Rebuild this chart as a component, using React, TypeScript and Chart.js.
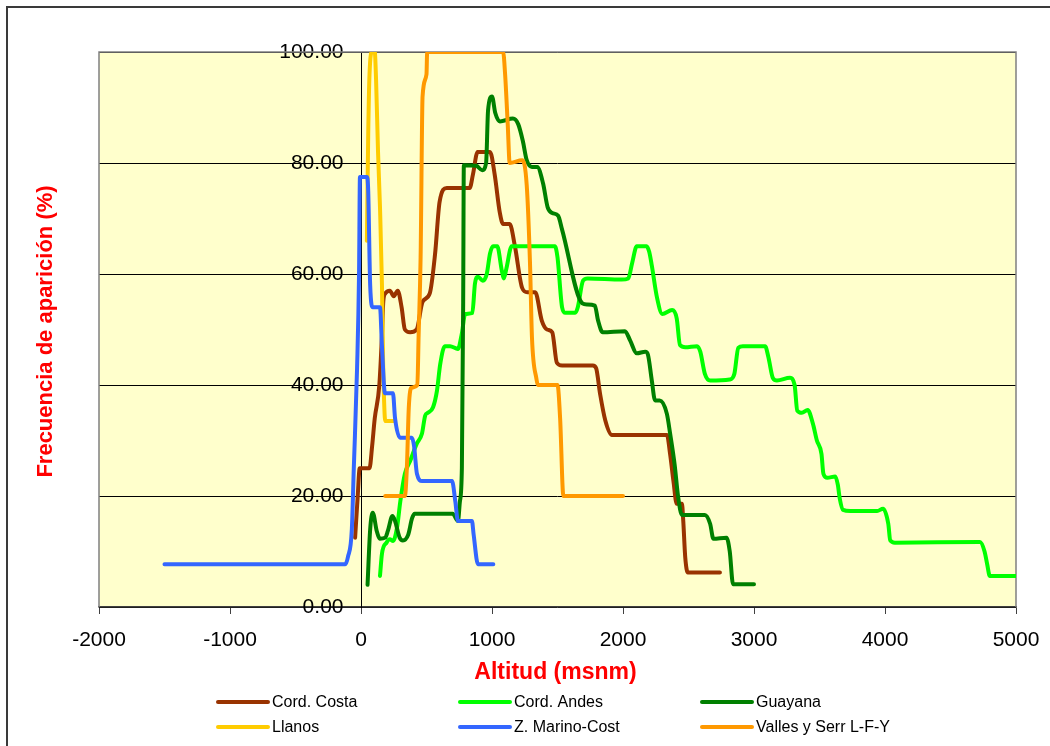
import React, { useEffect, useRef } from "react";
import { Chart, registerables } from "chart.js";

Chart.register(...registerables);

const FONT = '"Liberation Sans", Arial, Helvetica, sans-serif';

// ---- data (altitude in msnm, frequency in %) ----
const seriesNames = ["Cord. Costa", "Cord. Andes", "Guayana", "Llanos", "Z. Marino-Cost", "Valles y Serr L-F-Y"];
const seriesColors = ["#993300", "#00FF00", "#008000", "#FFCC00", "#3366FF", "#FF9900"];

const costaX = [-45, -25, -10, 65, 85, 105, 140, 160, 170, 185, 220, 250, 280, 310, 335, 375, 425, 470, 525, 565, 600, 655, 830, 855, 890, 985, 1020, 1060, 1085, 1135, 1175, 1230, 1270, 1330, 1380, 1420, 1460, 1495, 1535, 1770, 1795, 1825, 1865, 1915, 2335, 2360, 2385, 2410, 2450, 2460, 2475, 2495, 2740];
const costaY = [12.5, 20, 25, 25, 29, 34, 40, 49, 55, 56.5, 57, 56, 57, 54, 50, 49.5, 50, 55, 56.5, 63.5, 73, 75.5, 75.5, 78, 82, 82, 78, 71, 69, 69, 65, 57.5, 56.7, 56.7, 51.6, 50, 49.5, 44, 43.5, 43.5, 43, 38.4, 33.6, 31, 31, 27.5, 22.7, 18.6, 18.6, 15.5, 9, 6.2, 6.2];

const andesX = [145, 160, 195, 220, 245, 275, 300, 335, 375, 425, 465, 490, 510, 550, 580, 605, 640, 680, 740, 770, 795, 850, 870, 893, 930, 960, 985, 1008, 1040, 1075, 1090, 1110, 1150, 1480, 1500, 1535, 1560, 1635, 1655, 1695, 1730, 1990, 2040, 2070, 2105, 2180, 2200, 2220, 2260, 2300, 2375, 2410, 2435, 2475, 2565, 2590, 2625, 2665, 2815, 2850, 2880, 2915, 3085, 3110, 3145, 3175, 3275, 3310, 3330, 3365, 3410, 3450, 3480, 3515, 3530, 3560, 3620, 3640, 3655, 3680, 3735, 3940, 3985, 4025, 4040, 4075, 4725, 4760, 4780, 4800, 5000];
const andesY = [5.6, 9.6, 11.6, 12.2, 11.9, 14.3, 19, 24, 26.3, 29.4, 31.2, 34.5, 35, 36, 39, 43.8, 47, 47, 46.5, 49.3, 52.8, 53, 58.3, 59.5, 58.8, 60, 63.7, 65, 65, 60.6, 59.2, 61, 65, 65, 63, 54, 53, 53, 54, 58.8, 59.2, 59, 59.2, 62, 65, 65, 64, 61.5, 55.7, 52.8, 53.5, 52, 47.2, 46.8, 47, 46, 42, 40.8, 41, 42, 46.7, 47, 47, 45, 41.2, 40.8, 41.3, 40, 35.4, 35, 35.5, 33, 30, 27.6, 24, 23.3, 23.5, 22, 19.5, 17.5, 17.3, 17.3, 17.7, 15, 12, 11.6, 11.7, 10, 7.7, 5.6, 5.6];

const guayanaX = [50, 70, 90, 120, 145, 185, 205, 240, 260, 295, 320, 360, 390, 410, 700, 740, 755, 770, 780, 785, 880, 925, 955, 970, 1000, 1025, 1060, 1160, 1200, 1235, 1265, 1305, 1345, 1390, 1425, 1460, 1505, 1535, 1690, 1725, 1785, 1810, 1845, 2015, 2055, 2105, 2170, 2190, 2220, 2245, 2280, 2335, 2360, 2395, 2420, 2450, 2625, 2665, 2690, 2790, 2815, 2840, 3000];
const guayanaY = [4, 14, 17, 13.7, 12.3, 12.5, 13.7, 16.4, 15.5, 12.5, 12, 13, 16, 16.8, 16.8, 15.5, 19, 25, 55, 79.6, 79.5, 78.7, 80, 89.5, 92, 89, 87.5, 88, 87, 84, 80.5, 79.3, 79.3, 76.3, 72, 71, 70.5, 68, 54.7, 54.5, 54.3, 51.6, 49.5, 49.7, 48, 45.7, 46, 45.5, 40.8, 37.2, 37.2, 34.8, 31.2, 25.5, 20, 16.6, 16.6, 15, 12.3, 12.5, 10, 4.1, 4.1];

const llanosX = [45, 55, 65, 85, 105, 115, 130, 145, 160, 168, 178, 185, 260];
const llanosY = [66, 85, 96, 100, 100, 95, 82, 72, 58, 45, 36, 33.5, 33.5];

const marinoX = [-1500, -120, -100, -70, -55, -30, -15, -8, 45, 55, 70, 90, 145, 160, 183, 244, 260, 298, 389, 405, 427, 466, 695, 720, 740, 847, 860, 893, 1010];
const marinoY = [7.7, 7.7, 9, 14, 25, 43, 60, 77.5, 77.5, 75, 58, 54, 54, 47, 38.5, 38.5, 34, 30.5, 30.5, 29, 24, 22.7, 22.7, 19, 15.5, 15.5, 13, 7.7, 7.7];

const vallesX = [185, 335, 350, 365, 385, 430, 440, 455, 470, 500, 505, 1085, 1100, 1120, 1135, 1230, 1265, 1290, 1305, 1340, 1350, 1500, 1520, 1545, 2000];
const vallesY = [20, 20, 25, 36, 39.5, 40, 49, 63, 92, 96, 100, 100, 96, 87, 80, 80.5, 76, 62, 48.6, 41, 40, 40, 34, 20, 20];

const xAxisMin = -2000;
const xAxisMax = 5000;
const xAxisStep = 1000;
const yAxisMin = 0;
const yAxisMax = 100;
const yAxisStep = 20;

const xTitle = "Altitud (msnm)";
const yTitle = "Frecuencia de aparición (%)";

const allX = [costaX, andesX, guayanaX, llanosX, marinoX, vallesX];
const allY = [costaY, andesY, guayanaY, llanosY, marinoY, vallesY];

const decorPlugin = {
  id: "decor",
  beforeDraw(chart: any) {
    const { ctx, chartArea: a } = chart;
    ctx.save();
    ctx.fillStyle = "#FFFFCC";
    ctx.fillRect(a.left, a.top, a.right - a.left, a.bottom - a.top);
    ctx.restore();
  },
  beforeDatasetsDraw(chart: any) {
    const { ctx, chartArea: a } = chart;
    ctx.save();
    ctx.strokeStyle = "#808080";
    ctx.lineWidth = 1.5;
    ctx.beginPath();
    ctx.moveTo(a.left, a.bottom);
    ctx.lineTo(a.left, a.top);
    ctx.lineTo(a.right, a.top);
    ctx.lineTo(a.right, a.bottom);
    ctx.stroke();
    ctx.restore();
  },
  afterDraw(chart: any) {
    const { ctx, chartArea: a } = chart;
    ctx.save();
    // axis titles
    ctx.fillStyle = "#FF0000";
    ctx.textAlign = "center";
    ctx.textBaseline = "middle";
    ctx.font = `bold 23px ${FONT}`;
    ctx.fillText(xTitle, (a.left + a.right) / 2 - 2, a.bottom + 66);
    ctx.save();
    ctx.translate(46, (a.top + a.bottom) / 2 + 2);
    ctx.rotate(-Math.PI / 2);
    ctx.font = `bold 22px ${FONT}`;
    ctx.fillText(yTitle, 0, 0);
    ctx.restore();

    // legend (3 columns x 2 rows)
    const colStart = [218, 460, 702];
    const rowY = [702, 727];
    chart.data.datasets.forEach((ds: any, i: number) => {
      const x0 = colStart[i % 3];
      const y0 = rowY[Math.floor(i / 3)];
      ctx.strokeStyle = ds.borderColor;
      ctx.lineWidth = 4;
      ctx.lineCap = "round";
      ctx.beginPath();
      ctx.moveTo(x0, y0);
      ctx.lineTo(x0 + 50, y0);
      ctx.stroke();
      ctx.fillStyle = "#000";
      ctx.textAlign = "left";
      ctx.textBaseline = "middle";
      ctx.font = `16px ${FONT}`;
      ctx.fillText(ds.label, x0 + 54, y0 + 1);
    });
    ctx.restore();
  },
};

export default function App() {
  const ref = useRef<HTMLCanvasElement | null>(null);

  useEffect(() => {
    if (!ref.current) return;
    const datasets = seriesNames.map((name, i) => ({
      label: name,
      data: allX[i].map((x, k) => ({ x, y: allY[i][k] })),
      borderColor: seriesColors[i],
      backgroundColor: seriesColors[i],
      borderWidth: 4,
      pointRadius: 0,
      cubicInterpolationMode: "monotone" as const,
      borderJoinStyle: "round" as const,
      borderCapStyle: "round" as const,
      fill: false,
      order: seriesNames.length - i,
    }));

    const chart = new Chart(ref.current, {
      type: "line",
      data: { datasets },
      plugins: [decorPlugin],
      options: {
        responsive: false,
        animation: false,
        events: [],
        layout: { padding: { left: 99, right: 34, top: 52, bottom: 80 } },
        plugins: {
          legend: { display: false },
          tooltip: { enabled: false },
          title: { display: false },
        },
        scales: {
          x: {
            type: "linear",
            min: xAxisMin,
            max: xAxisMax,
            ticks: {
              stepSize: xAxisStep,
              color: "#000",
              font: { family: FONT, size: 21, lineHeight: 2.19 },
              padding: 3,
              maxRotation: 0,
              callback: (v: any) => String(v),
            },
            grid: {
              drawOnChartArea: false,
              drawTicks: true,
              tickLength: 7,
              color: "#404040",
            },
            border: { display: true, color: "#404040", width: 1.5 },
          },
          y: {
            type: "linear",
            min: yAxisMin,
            max: yAxisMax,
            position: { x: 0 } as any,
            ticks: {
              stepSize: yAxisStep,
              color: "#000",
              font: { family: FONT, size: 21 },
              padding: 12,
              callback: (v: any) => Number(v).toFixed(2) + "   ",
            },
            grid: {
              color: "#000",
              lineWidth: 1,
              tickLength: 6,
              drawOnChartArea: true,
            },
            border: { display: true, color: "#000", width: 1 },
          },
        },
      },
    });
    return () => chart.destroy();
  }, []);

  return (
    <>
      <div
        style={{
          position: "fixed",
          left: 6,
          top: 6,
          width: 1100,
          height: 800,
          border: "2px solid #3a3a3a",
          boxSizing: "border-box",
          background: "#fff",
        }}
      />
      <canvas
        ref={ref}
        width={1050}
        height={746}
        style={{ position: "fixed", left: 0, top: 0, width: 1050, height: 746 }}
      />
    </>
  );
}
